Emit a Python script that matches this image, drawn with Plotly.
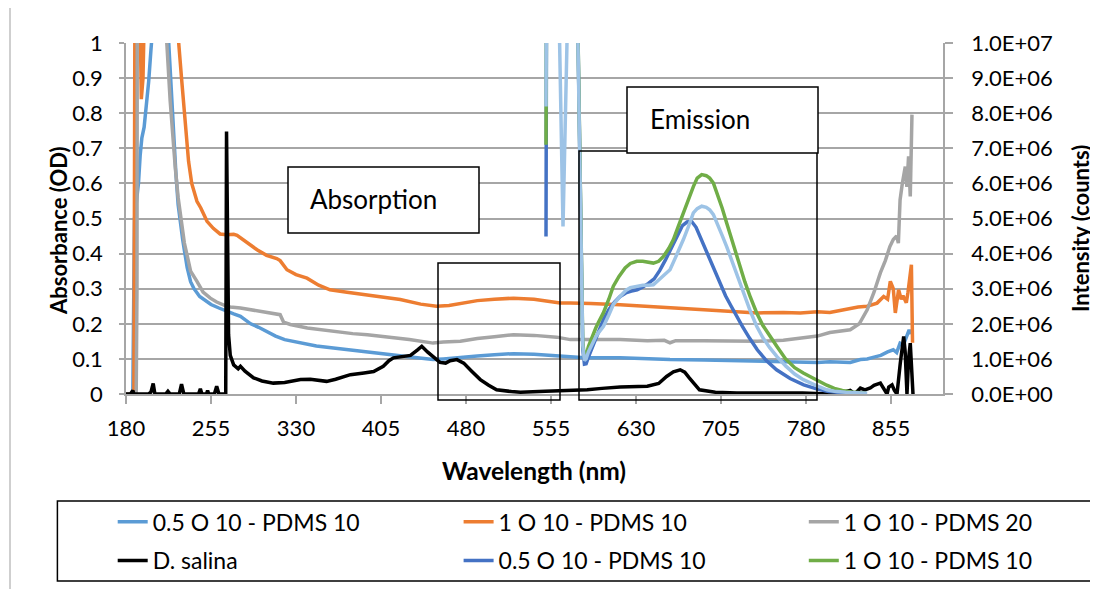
import plotly.graph_objects as go

# ---------------- data ----------------
# Absorbance, left axis
abs1_x = [180, 186, 187.5, 189, 191, 192.5, 194, 196, 197, 199, 200, 202, 204, 210, 216, 218, 220, 222, 224, 226,
          228, 230, 232, 234, 237, 240, 245, 250, 255, 262, 269, 275, 281, 290, 297, 304, 312, 320, 334, 348,
          363, 380, 395, 407, 420, 435, 451, 460, 475, 490, 505, 522, 540, 563, 585, 616, 640, 660, 690, 715,
          737, 760, 775, 790, 801, 810, 819, 828, 834, 840, 846, 852, 857, 860, 863, 866, 869, 871, 872]
abs1_y = [0, 0, 0.5, 0.55, 0.6, 0.68, 0.73, 0.76, 0.79, 0.85, 0.89, 0.98, 1.1, 1.3, 1.1, 0.98, 0.83, 0.72, 0.63, 0.54,
          0.48, 0.44, 0.40, 0.36, 0.32, 0.30, 0.278, 0.265, 0.255, 0.245, 0.235, 0.228, 0.221, 0.20, 0.19, 0.178, 0.165, 0.155, 0.145, 0.137,
          0.131, 0.125, 0.12, 0.117, 0.11, 0.104, 0.098, 0.10, 0.103, 0.108, 0.112, 0.115, 0.113, 0.107, 0.103, 0.103, 0.10, 0.098, 0.097, 0.095,
          0.093, 0.092, 0.09, 0.09, 0.092, 0.092, 0.09, 0.098, 0.10, 0.105, 0.11, 0.12, 0.126, 0.118, 0.145, 0.14, 0.164, 0.183, 0.17]

abs2_x = [180, 187, 187.4, 188, 191.5, 192.5, 193.5, 195, 197.5, 225, 226.5, 229, 232.3, 235.2, 238, 242.6, 246, 251.5, 257, 263,
          269, 275, 278, 285, 295.6, 304, 313, 316, 322, 330, 339.7, 350, 360, 375, 392.6, 405, 422, 440, 454, 465,
          477.6, 490, 505, 522, 540, 563, 572, 590, 616, 640, 660, 690, 715, 737, 760, 775, 790, 801, 810, 819,
          826, 834, 842.7, 848.5, 852, 854.4, 857, 858.8, 861.7, 864, 865.6, 868.5, 870, 873, 874]
abs2_y = [0, 0, 0.5, 1.3, 1.3, 0.93, 0.84, 0.9, 1.3, 1.3, 1.0, 0.9, 0.787, 0.663, 0.6, 0.549, 0.53, 0.492, 0.472, 0.456,
          0.454, 0.455, 0.452, 0.435, 0.411, 0.395, 0.386, 0.38, 0.354, 0.34, 0.33, 0.31, 0.297, 0.29, 0.283, 0.278, 0.269, 0.256, 0.25, 0.252,
          0.259, 0.266, 0.27, 0.273, 0.27, 0.259, 0.259, 0.258, 0.254, 0.25, 0.245, 0.24, 0.235, 0.231, 0.232, 0.231, 0.234, 0.232, 0.238, 0.245,
          0.248, 0.25, 0.259, 0.278, 0.27, 0.321, 0.30, 0.231, 0.297, 0.27, 0.28, 0.26, 0.29, 0.368, 0.146]

abs3_x = [180, 189, 189.7, 190, 214, 216, 219, 221, 223.5, 226, 229.4, 231.5, 233.8, 237, 242.6, 248, 254.4, 260, 269, 272,
          281, 290, 300, 310, 316, 319, 325, 340, 363, 380, 393, 410, 430, 451, 460, 475, 490, 505, 522, 540,
          560, 572, 600, 616, 640, 655, 660, 665, 690, 715, 737, 760, 775, 790, 801, 810, 819, 827, 834, 840,
          845.6, 850, 854, 857, 860, 861.5, 863, 865, 867.6, 869, 870.5, 872, 873.5]
abs3_y = [0, 0, 0.3, 1.3, 1.3, 1.0, 0.834, 0.74, 0.644, 0.56, 0.473, 0.43, 0.397, 0.35, 0.321, 0.29, 0.273, 0.262, 0.25, 0.248,
          0.245, 0.24, 0.235, 0.23, 0.226, 0.205, 0.198, 0.188, 0.178, 0.172, 0.169, 0.163, 0.155, 0.145, 0.148, 0.15, 0.158, 0.163, 0.169, 0.167,
          0.162, 0.155, 0.155, 0.155, 0.152, 0.153, 0.146, 0.152, 0.152, 0.152, 0.15, 0.153, 0.16, 0.165, 0.175, 0.178, 0.183, 0.20, 0.24, 0.29,
          0.345, 0.38, 0.42, 0.44, 0.45, 0.43, 0.553, 0.60, 0.648, 0.59, 0.677, 0.563, 0.796]

sal_x = [180, 184, 186, 187, 200, 202, 204, 205.5, 215, 217, 219, 227, 229, 231, 244, 245.6, 247, 251, 252, 253,
         258, 260, 262, 268, 268.7, 269.7, 270.5, 272, 275, 279, 281, 285, 292.6, 300, 310, 320, 334, 342.6, 350, 357,
         365, 378, 390, 398.5, 407, 412, 416, 425, 431, 437, 441, 446, 451, 457, 462, 466, 472, 478, 485, 492.6,
         500, 507, 520, 528, 550, 570, 587, 600, 616, 640, 650, 657, 663, 669, 673, 677, 682, 686, 700, 719,
         750, 777, 801, 810, 819, 823, 828, 832, 836.7, 840, 845.6, 848, 851.5, 853, 855.9, 858, 860.3, 863.2, 866.2, 867.5,
         869.1, 870.5, 872, 874.4]
sal_y = [0, 0, 0.01, 0, 0, 0.005, 0.03, 0, 0, 0.008, 0, 0, 0.028, 0, 0, 0.015, 0, 0, 0.01, 0,
         0, 0.022, 0, 0, 0.748, 0.40, 0.169, 0.11, 0.083, 0.072, 0.079, 0.065, 0.046, 0.037, 0.031, 0.033, 0.041, 0.042, 0.038, 0.036,
         0.042, 0.055, 0.06, 0.064, 0.079, 0.095, 0.103, 0.106, 0.11, 0.125, 0.136, 0.12, 0.105, 0.09, 0.088, 0.095, 0.098, 0.088, 0.065, 0.041,
         0.025, 0.012, 0.007, 0.005, 0.008, 0.01, 0.012, 0.016, 0.02, 0.022, 0.03, 0.05, 0.063, 0.069, 0.062, 0.046, 0.025, 0.012, 0.005, 0.003,
         0.003, 0.003, 0, 0.003, 0.01, 0, 0.017, 0.012, 0.017, 0.025, 0.031, 0.02, 0, 0.02, 0.026, 0.01, 0, 0.088, 0.164, 0.12,
         0, 0.1, 0.145, 0]

# Emission, right axis (counts)
em1_x = [550.6, 551.2, 577.5, 578.8, 581, 583, 584.5, 586, 588, 590, 592, 594.5, 597, 601.3, 606, 611, 616, 621, 626, 631,
         636, 641, 646, 651, 656, 661, 666, 671, 675, 679, 683, 687, 691, 695, 699, 704, 709, 714, 719, 724,
         730, 737, 745, 754, 766, 778, 790, 800, 815, 833]
em1_y = [4.49e6, 1.3e7, 1.3e7, 1.0e7, 4.5e6, 1.3e6, 0.85e6, 0.86e6, 1.05e6, 1.22e6, 1.4e6, 1.6e6, 1.8e6, 2.12e6, 2.4e6, 2.62e6, 2.78e6, 2.88e6, 2.93e6, 2.97e6,
         3.05e6, 3.15e6, 3.28e6, 3.52e6, 3.82e6, 4.15e6, 4.5e6, 4.8e6, 4.9e6, 4.92e6, 4.75e6, 4.45e6, 4.1e6, 3.8e6, 3.5e6, 3.13e6, 2.8e6, 2.5e6, 2.2e6, 1.92e6,
         1.6e6, 1.26e6, 0.95e6, 0.69e6, 0.44e6, 0.26e6, 0.14e6, 0.07e6, 0.03e6, 0.01e6]

em2_x = [550.6, 551.2, 577.5, 578.8, 581, 583, 584.5, 586, 588, 590, 592, 594.5, 597, 601.2, 606, 610, 615, 620.4, 625, 630.7,
         636, 641, 645.3, 650, 654.2, 659, 663, 667, 671.8, 676, 680.6, 684, 688, 692, 695, 698.3, 702, 706, 710, 714,
         718, 721.8, 726, 731, 736.5, 742, 748, 754.2, 762, 770, 777.6, 785, 792, 798.3, 805, 812, 820, 833]
em2_y = [7.1e6, 1.3e7, 1.3e7, 1.0e7, 5.0e6, 1.5e6, 1.04e6, 1.1e6, 1.35e6, 1.52e6, 1.7e6, 1.88e6, 2.05e6, 2.31e6, 2.7e6, 3.07e6, 3.35e6, 3.59e6, 3.72e6, 3.78e6,
         3.78e6, 3.75e6, 3.73e6, 3.78e6, 3.92e6, 4.15e6, 4.4e6, 4.75e6, 5.16e6, 5.55e6, 5.91e6, 6.15e6, 6.25e6, 6.22e6, 6.15e6, 6.01e6, 5.7e6, 5.3e6, 4.87e6, 4.45e6,
         4.05e6, 3.64e6, 3.2e6, 2.75e6, 2.31e6, 1.95e6, 1.65e6, 1.36e6, 1.0e6, 0.75e6, 0.6e6, 0.47e6, 0.36e6, 0.25e6, 0.16e6, 0.1e6, 0.06e6, 0.02e6]

em3_x = [550.6, 551.2, 561.5, 562.6, 565.6, 569.1, 570, 577.5, 578.8, 581, 583, 584.5, 586, 588, 590, 592, 594.5, 597, 601.3, 606,
         610, 616, 621, 625, 630.7, 636, 641, 645.3, 650, 655, 660, 665, 668, 671.8, 676, 680.6, 684, 688, 692, 695,
         698.3, 702, 706, 710, 714, 718, 721.8, 726, 731, 736.5, 742, 748, 754.2, 762, 770, 777.6, 786, 792, 798.3, 805,
         815, 834]
em3_y = [8.19e6, 1.3e7, 1.3e7, 1.0e7, 4.77e6, 1.0e7, 1.3e7, 1.3e7, 1.0e7, 5.0e6, 1.4e6, 0.95e6, 1.0e6, 1.2e6, 1.35e6, 1.5e6, 1.63e6, 1.75e6, 1.93e6, 2.25e6,
         2.55e6, 2.78e6, 2.95e6, 3.03e6, 3.07e6, 3.1e6, 3.1e6, 3.11e6, 3.25e6, 3.4e6, 3.54e6, 3.9e6, 4.1e6, 4.4e6, 4.75e6, 5.16e6, 5.28e6, 5.35e6, 5.32e6, 5.25e6,
         5.11e6, 4.85e6, 4.52e6, 4.2e6, 3.85e6, 3.5e6, 3.16e6, 2.75e6, 2.35e6, 1.93e6, 1.6e6, 1.32e6, 1.07e6, 0.8e6, 0.57e6, 0.41e6, 0.28e6, 0.2e6, 0.12e6, 0.08e6,
         0.05e6, 0.02e6]

series_names = ["0.5 O 10 - PDMS 10", "1 O 10 - PDMS 10", "1 O 10 - PDMS 20",
                "D. salina", "0.5 O 10 - PDMS 10", "1 O 10 - PDMS 10", "1 O 10 - PDMS 20 (em)"]

x_ticks = [180, 255, 330, 405, 480, 555, 630, 705, 780, 855]
y_left_ticks = [0, 0.1, 0.2, 0.3, 0.4, 0.5, 0.6, 0.7, 0.8, 0.9, 1]
y_left_text = ["0", "0.1", "0.2", "0.3", "0.4", "0.5", "0.6", "0.7", "0.8", "0.9", "1"]
y_right_ticks = [0, 1e6, 2e6, 3e6, 4e6, 5e6, 6e6, 7e6, 8e6, 9e6, 1e7]
y_right_text = ["0.0E+00", "1.0E+06", "2.0E+06", "3.0E+06", "4.0E+06", "5.0E+06",
                "6.0E+06", "7.0E+06", "8.0E+06", "9.0E+06", "1.0E+07"]

# ---------------- styling / layout geometry ----------------
OFF = 8                                # page body margin of the html page
W, H = 1098 - OFF, 589 - OFF
PL, PR, PT, PB = 126, 943, 43, 394     # plot area in page pixels
FONT = "Lato"
GRID = "#A6A6A6"

def fx(px):
    return (px - PL) / (PR - PL)

def fy(py):
    return (PB - py) / (PB - PT)

colors = ["#5B9BD5", "#ED7D31", "#A5A5A5", "#000000", "#4472C4", "#70AD47", "#9DC3E6"]
legend_ids = ["legend", "legend2", "legend3", "legend4", "legend5", "legend6"]
LW = 3.5

fig = go.Figure()
abs_data = [(abs1_x, abs1_y), (abs2_x, abs2_y), (abs3_x, abs3_y), (sal_x, sal_y)]
for i, (xs, ys) in enumerate(abs_data):
    fig.add_trace(go.Scatter(x=xs, y=ys, mode="lines", name=series_names[i],
                             line=dict(color=colors[i], width=LW), legend=legend_ids[i]))
em_data = [(em1_x, em1_y), (em2_x, em2_y), (em3_x, em3_y)]
for j, (xs, ys) in enumerate(em_data):
    k = 4 + j
    fig.add_trace(go.Scatter(x=xs, y=ys, mode="lines", name=series_names[k], yaxis="y2",
                             line=dict(color=colors[k], width=LW),
                             legend=legend_ids[k] if k < 6 else "legend",
                             showlegend=(k < 6)))

# legends: one per entry, placed in a 3x2 grid
leg_text_x = [152.7, 498.6, 843.8]
leg_row_y = [521.7, 560.5]
legend_layout = {}
for n, lid in enumerate(legend_ids):
    col, row = n % 3, n // 3
    legend_layout[lid] = dict(
        x=fx(leg_text_x[col] - 40), y=fy(leg_row_y[row]), xanchor="left", yanchor="middle",
        orientation="h", bgcolor="rgba(0,0,0,0)", borderwidth=0,
        font=dict(family=FONT, size=23, color="#000000"))

tick_font = dict(family=FONT, size=22, color="#000000")

shapes = [
    # legend frame
    dict(type="rect", xref="paper", yref="paper", x0=fx(57.4), x1=fx(1091), y0=fy(501), y1=fy(581),
         line=dict(color="#000000", width=1.5), fillcolor="rgba(0,0,0,0)", layer="above"),
    # chart-area border (left edge)
    dict(type="line", xref="paper", yref="paper", x0=fx(10), x1=fx(10), y0=fy(OFF), y1=fy(589),
         line=dict(color="#BFBFBF", width=1.5)),
    # highlight rectangles
    dict(type="rect", xref="paper", yref="paper", x0=fx(438), x1=fx(560), y0=fy(263), y1=fy(400),
         line=dict(color="#000000", width=1.5), fillcolor="rgba(0,0,0,0)", layer="above"),
    dict(type="rect", xref="paper", yref="paper", x0=fx(579), x1=fx(817), y0=fy(151), y1=fy(400),
         line=dict(color="#000000", width=1.5), fillcolor="rgba(0,0,0,0)", layer="above"),
    # text boxes
    dict(type="rect", xref="paper", yref="paper", x0=fx(288), x1=fx(479), y0=fy(167), y1=fy(233),
         line=dict(color="#000000", width=1.5), fillcolor="#FFFFFF", layer="above"),
    dict(type="rect", xref="paper", yref="paper", x0=fx(627), x1=fx(818), y0=fy(87), y1=fy(153),
         line=dict(color="#000000", width=1.5), fillcolor="#FFFFFF", layer="above"),
]

annotations = [
    dict(text="Absorption", xref="paper", yref="paper", x=fx(308), y=fy(199), xanchor="left", yanchor="middle",
         showarrow=False, font=dict(family=FONT, size=26, color="#000000")),
    dict(text="Emission", xref="paper", yref="paper", x=fx(648), y=fy(119), xanchor="left", yanchor="middle",
         showarrow=False, font=dict(family=FONT, size=26, color="#000000")),
    dict(text="<b>Wavelength (nm)</b>", xref="paper", yref="paper", x=fx(533.5), y=fy(470), xanchor="center",
         yanchor="middle", showarrow=False, font=dict(family=FONT, size=24.5, color="#000000")),
    dict(text="<b>Absorbance (OD)</b>", xref="paper", yref="paper", x=fx(58), y=fy(231), xanchor="center",
         yanchor="middle", textangle=-90, showarrow=False, font=dict(family=FONT, size=22, color="#000000")),
    dict(text="<b>Intensity (counts)</b>", xref="paper", yref="paper", x=fx(1080), y=fy(229), xanchor="center",
         yanchor="middle", textangle=-90, showarrow=False, font=dict(family=FONT, size=22, color="#000000")),
]

fig.update_layout(
    width=W, height=H,
    margin=dict(l=PL - OFF, r=1098 - PR, t=PT - OFF, b=589 - PB, autoexpand=False),
    paper_bgcolor="#FFFFFF", plot_bgcolor="#FFFFFF",
    showlegend=True,
    xaxis=dict(range=[180, 180 + (PR - PL) / ((891 - PL) / 675)], tickvals=x_ticks,
               ticktext=[str(v) for v in x_ticks], ticks="outside", ticklen=8, tickcolor=GRID, tickwidth=1.5,
               showgrid=False, zeroline=False, showline=True, linecolor=GRID, linewidth=1.5,
               tickfont=tick_font, ticklabelstandoff=6),
    yaxis=dict(range=[0, 1], tickvals=y_left_ticks, ticktext=y_left_text, ticks="outside", ticklen=5,
               tickcolor=GRID, tickwidth=1.5, showgrid=True, gridcolor=GRID, gridwidth=1.5,
               zeroline=False, showline=True, linecolor=GRID, linewidth=1.5,
               tickfont=tick_font, ticklabelstandoff=12),
    yaxis2=dict(range=[0, 1e7], overlaying="y", side="right", tickvals=y_right_ticks, ticktext=y_right_text,
                ticks="outside", ticklen=8, tickcolor=GRID, tickwidth=1.5, showgrid=False, zeroline=False,
                showline=True, linecolor=GRID, linewidth=1.5, tickfont=tick_font, ticklabelstandoff=14),
    shapes=shapes,
    annotations=annotations,
    **legend_layout,
)

fig.write_html("out.html")
